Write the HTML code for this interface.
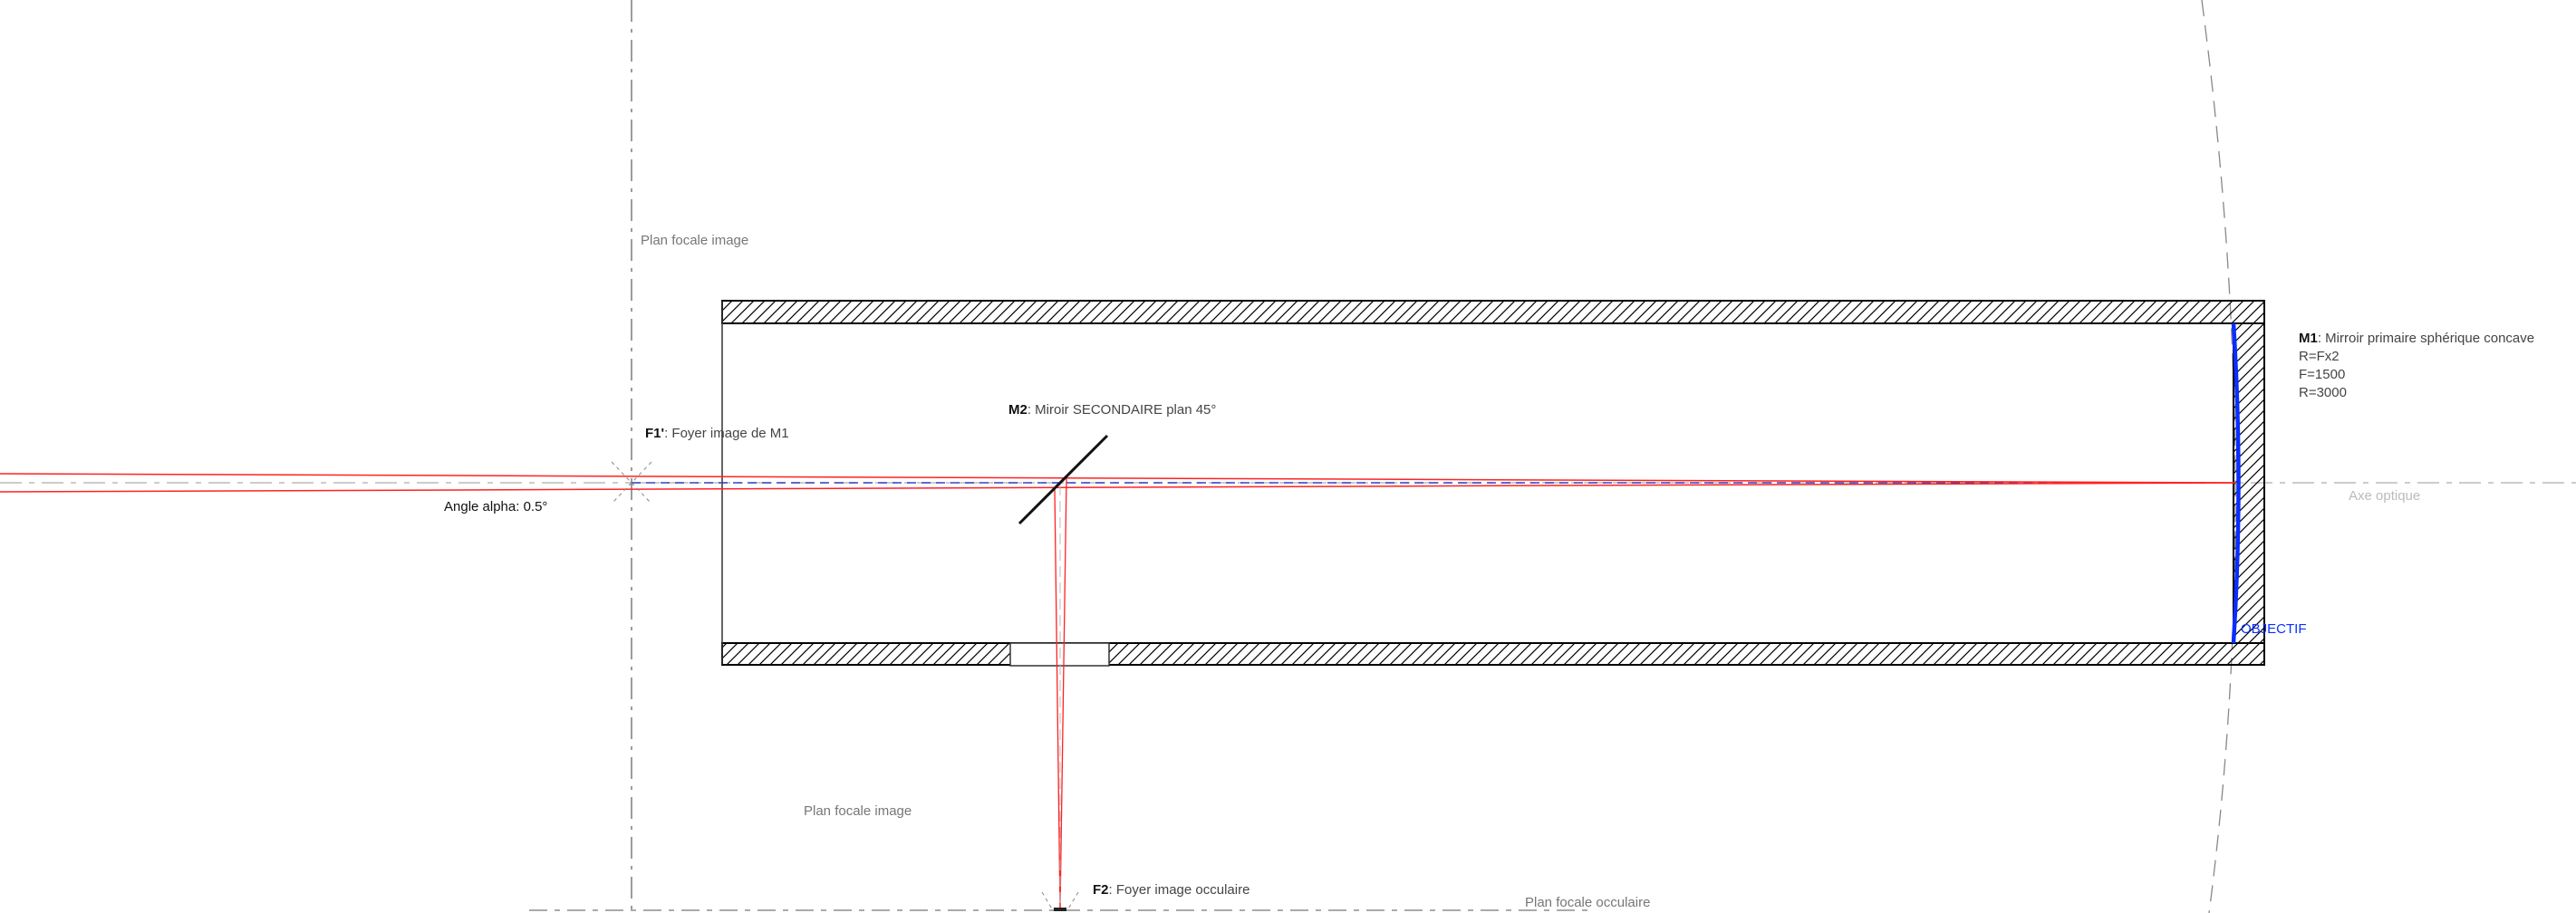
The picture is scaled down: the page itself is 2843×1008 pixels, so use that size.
<!DOCTYPE html>
<html><head><meta charset="utf-8"><style>
html,body{margin:0;padding:0;background:#fff;}
svg{display:block;}
text{font-family:"Liberation Sans",sans-serif;font-size:15px;fill:#444;}
</style></head><body>
<svg width="2843" height="1008" viewBox="0 0 2843 1008" xmlns="http://www.w3.org/2000/svg">
<defs>
<pattern id="h" patternUnits="userSpaceOnUse" width="12" height="12">
<path d="M-3,15 L15,-3 M-9,9 L9,-9 M3,21 L21,3" stroke="#000" stroke-width="1.2"/>
</pattern>
</defs>
<rect width="2843" height="1008" fill="#fff"/>
<!-- optical axis -->
<line x1="0" y1="533" x2="2843" y2="533" stroke="#bbb" stroke-width="1.5" stroke-dasharray="24,8,6,8"/>
<!-- vertical focal plane -->
<line x1="697" y1="0" x2="697" y2="1008" stroke="#666" stroke-width="1.3" stroke-dasharray="24,8,4,8"/>
<!-- big arc -->
<path d="M2430,0 Q2500,533 2438,1008" fill="none" stroke="#888" stroke-width="1.3" stroke-dasharray="18,10"/>
<!-- bottom plan -->
<line x1="584" y1="1005" x2="1755" y2="1005" stroke="#777" stroke-width="1.3" stroke-dasharray="20,8,6,8"/>
<!-- tube -->
<rect x="797" y="332" width="1702" height="25" fill="url(#h)" stroke="#000" stroke-width="2"/>
<rect x="797" y="710" width="1702" height="24" fill="url(#h)" stroke="#000" stroke-width="2"/>
<rect x="2465" y="357" width="34" height="353" fill="url(#h)" stroke="#000" stroke-width="2"/>
<line x1="797" y1="332" x2="797" y2="734" stroke="#333" stroke-width="1.5"/>
<rect x="1115" y="710" width="109" height="25" fill="#fff" stroke="#333" stroke-width="1.5"/>
<!-- blue dashed axis -->
<line x1="697" y1="533" x2="2440" y2="533" stroke="#3344cc" stroke-width="1.5" stroke-dasharray="10,6"/>
<!-- red rays -->
<line x1="0" y1="523" x2="2468" y2="533" stroke="#f22" stroke-width="1.5"/>
<line x1="0" y1="543" x2="2468" y2="533" stroke="#f22" stroke-width="1.5"/>
<line x1="1164" y1="540" x2="1170" y2="1005" stroke="#f22" stroke-width="1.3"/>
<line x1="1177" y1="528" x2="1170" y2="1005" stroke="#f22" stroke-width="1.3"/>
<line x1="1170" y1="535" x2="1170" y2="1005" stroke="#bbb" stroke-width="1" stroke-dasharray="12,6"/>
<!-- F1' star -->
<g stroke="#888" stroke-width="1" stroke-dasharray="4,4">
<line x1="675" y1="510" x2="719" y2="556"/><line x1="719" y1="510" x2="675" y2="556"/>
<line x1="1150" y1="985" x2="1162" y2="1005"/><line x1="1190" y1="985" x2="1178" y2="1005"/>
</g>
<rect x="1163" y="1002" width="14" height="4" fill="#222"/>
<!-- M2 mirror -->
<line x1="1125" y1="578" x2="1222" y2="481" stroke="#111" stroke-width="3"/>
<!-- M1 mirror -->
<path d="M2465,357 Q2476,533 2465,710" fill="none" stroke="#0a2eff" stroke-width="4.5"/>
<!-- labels -->
<text x="707" y="270" fill="#777" style="fill:#777">Plan focale image</text>
<text x="712" y="483"><tspan font-weight="bold" style="fill:#111">F1'</tspan>: Foyer image de M1</text>
<text x="490" y="564" style="fill:#111">Angle alpha: 0.5°</text>
<text x="1113" y="457"><tspan font-weight="bold" style="fill:#111">M2</tspan>: Miroir SECONDAIRE plan 45°</text>
<text x="2537" y="378"><tspan font-weight="bold" style="fill:#111">M1</tspan>: Mirroir primaire sphérique concave</text>
<text x="2537" y="398">R=Fx2</text>
<text x="2537" y="418">F=1500</text>
<text x="2537" y="438">R=3000</text>
<text x="2592" y="552" style="fill:#bbb">Axe optique</text>
<text x="2473" y="699" style="fill:#0a2eff">OBJECTIF</text>
<text x="887" y="900" style="fill:#777">Plan focale image</text>
<text x="1206" y="987"><tspan font-weight="bold" style="fill:#111">F2</tspan>: Foyer image occulaire</text>
<text x="1683" y="1001" style="fill:#777">Plan focale occulaire</text>
</svg>
</body></html>
